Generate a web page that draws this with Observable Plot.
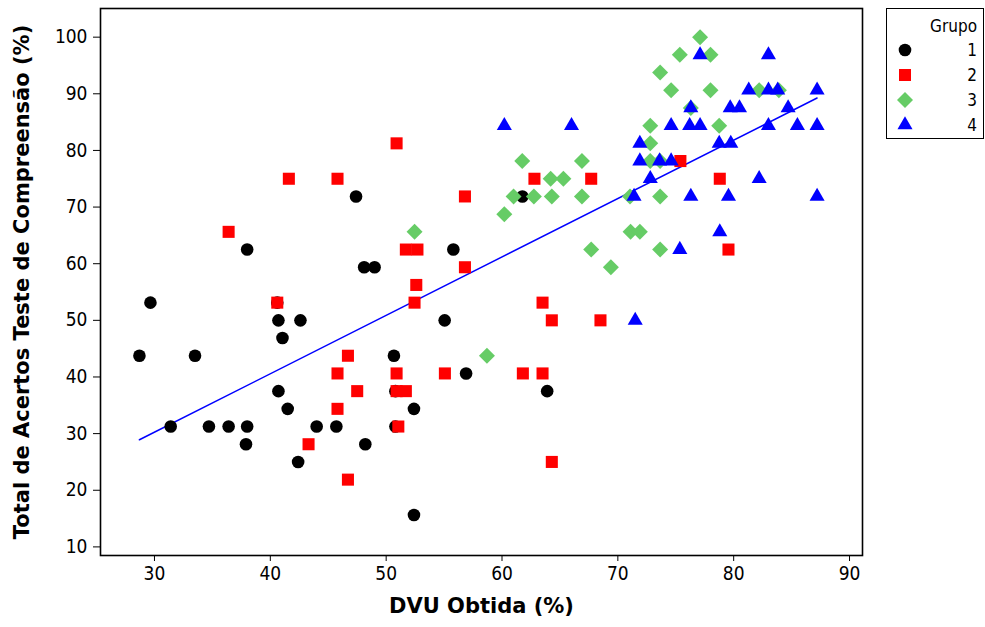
<!DOCTYPE html>
<html><head><meta charset="utf-8">
<script src="https://cdn.jsdelivr.net/npm/d3@7"></script>
<script src="https://cdn.jsdelivr.net/npm/@observablehq/plot@0.6"></script>
<style>
body{margin:0;background:#fff;font-family:"DejaVu Sans Condensed","DejaVu Sans",sans-serif;}
#wrap{position:relative;width:985px;height:627px;overflow:hidden;}
#legend{position:absolute;left:886px;top:8px;width:98px;height:131px;box-sizing:border-box;border:1px solid #000;background:#fff;}
</style></head><body><div id="wrap"></div>
<script>
// ---- data ----
const groups = ["1", "2", "3", "4"];
const groupColors = ["#000000", "#ff0000", "#66cc66", "#0000ff"];
const groupSymbols = ["circle", "square", "diamond2", "triangle"];
const groupRadii = [6.3, 6.8, 7.2, 5.6];

const g1x = [28.7, 29.65, 31.4, 33.5, 34.7, 36.4, 38.0, 37.9, 38.0, 40.6, 40.7, 41.05, 42.6, 40.7, 41.5, 42.4, 44.0, 45.7, 48.2, 47.4, 48.1, 49.0, 50.67, 50.8, 50.8, 52.4, 52.4, 55.8, 55.05, 56.9, 61.76, 63.9];
const g1y = [43.75, 53.125, 31.25, 43.75, 31.25, 31.25, 31.25, 28.125, 62.5, 53.125, 50, 46.875, 50, 37.5, 34.375, 25, 31.25, 31.25, 28.125, 71.875, 59.375, 59.375, 43.75, 37.5, 31.25, 34.375, 15.625, 62.5, 50, 40.625, 71.875, 37.5];

const g2x = [36.4, 40.6, 41.6, 43.3, 45.8, 50.9, 56.8, 51.7, 52.7, 56.8, 52.6, 52.45, 46.7, 45.8, 50.9, 55.07, 47.5, 50.9, 51.7, 45.8, 51.05, 46.7, 62.8, 67.7, 63.5, 64.3, 68.5, 61.8, 63.5, 64.3, 75.4, 78.8, 79.55];
const g2y = [65.625, 53.125, 75, 28.125, 75, 81.25, 71.875, 62.5, 62.5, 59.375, 56.25, 53.125, 43.75, 40.625, 40.625, 40.625, 37.5, 37.5, 37.5, 34.375, 31.25, 21.875, 75, 75, 53.125, 50, 50, 40.625, 40.625, 25, 78.125, 75, 62.5];

const g3x = [52.45, 58.7, 60.2, 61.75, 61.0, 62.75, 64.3, 66.9, 64.2, 65.3, 66.9, 67.7, 69.4, 71.1, 71.9, 73.65, 73.65, 71.05, 72.8, 72.8, 72.8, 73.65, 77.1, 75.35, 78.0, 73.65, 74.6, 78.0, 82.2, 83.9, 76.3, 78.75];
const g3y = [65.625, 43.75, 68.75, 78.125, 71.875, 71.875, 71.875, 71.875, 75, 75, 78.125, 62.5, 59.375, 65.625, 65.625, 62.5, 71.875, 71.875, 84.375, 81.25, 78.125, 78.125, 100, 96.875, 96.875, 93.75, 90.625, 90.625, 90.625, 90.625, 87.5, 84.375];

const g4x = [60.2, 66.0, 71.5, 71.4, 71.9, 71.9, 72.8, 73.6, 77.1, 83.0, 81.3, 83.0, 83.8, 87.2, 76.3, 79.7, 80.5, 84.7, 74.6, 76.2, 77.1, 83.0, 85.5, 87.2, 78.75, 79.75, 74.6, 82.2, 76.3, 79.55, 87.2, 78.8, 75.35];
const g4y = [84.375, 84.375, 50, 71.875, 81.25, 78.125, 75, 78.125, 96.875, 96.875, 90.625, 90.625, 90.625, 90.625, 87.5, 87.5, 87.5, 87.5, 84.375, 84.375, 84.375, 84.375, 84.375, 84.375, 81.25, 81.25, 78.125, 75, 71.875, 71.875, 71.875, 65.625, 62.5];

const xTicks = [30, 40, 50, 60, 70, 80, 90];
const yTicks = [10, 20, 30, 40, 50, 60, 70, 80, 90, 100];
const xLabel = "DVU Obtida (%)";
const yLabel = "Total de Acertos Teste de Compreensão (%)";
const legendTitle = "Grupo";

// ---- build table ----
const xs = [g1x, g2x, g3x, g4x];
const ys = [g1y, g2y, g3y, g4y];
const data = groups.flatMap((g, i) => xs[i].map((x, j) => ({grupo: g, x, y: ys[i][j]})));

const font = '"DejaVu Sans Condensed","DejaVu Sans",sans-serif';
const titleFont = '"DejaVu Sans",sans-serif';

const chart = Plot.plot({
  width: 985,
  height: 627,
  marginLeft: 100,
  marginRight: 123,
  marginTop: 8,
  marginBottom: 72,
  style: {fontFamily: font, background: "#fff", color: "#000"},
  x: {domain: [25.34, 91.12], ticks: xTicks},
  y: {domain: [8.48, 105.06], ticks: yTicks},
  color: {domain: groups, range: groupColors},
  symbol: {domain: groups, range: groupSymbols},
  marks: [
    Plot.axisX({ticks: xTicks, tickSize: 6, tickPadding: 5, fontSize: 19, label: null, tickFormat: d => String(d)}),
    Plot.axisY({ticks: yTicks, tickSize: 7, tickPadding: 6, fontSize: 19, label: null, tickFormat: d => String(d)}),
    Plot.linearRegressionY(data, {x: "x", y: "y", stroke: "#0000ff", strokeWidth: 1.5, ci: 0}),
    ...groups.map((g, i) => Plot.dot(data.filter(d => d.grupo === g), {x: "x", y: "y", fill: "grupo", symbol: "grupo", r: groupRadii[i]})),
    Plot.frame({stroke: "#000", strokeWidth: 1.6}),
    Plot.text([xLabel], {frameAnchor: "bottom", dy: 57, text: d => d, fontSize: 21, fontWeight: "bold", fontFamily: titleFont, fill: "#000", textAnchor: "middle"}),
    Plot.text([yLabel], {frameAnchor: "left", dx: -78, rotate: -90, text: d => d, fontSize: 21, fontWeight: "bold", fontFamily: titleFont, fill: "#000", textAnchor: "middle"})
  ]
});

const wrap = document.getElementById("wrap");
wrap.appendChild(chart);

// ---- legend ----
const symbolTypes = {circle: d3.symbolCircle, square: d3.symbolSquare, diamond2: d3.symbolDiamond2, triangle: d3.symbolTriangle};
const legendDiv = document.createElement("div");
legendDiv.id = "legend";
wrap.appendChild(legendDiv);
const lsvg = d3.select(legendDiv).append("svg").attr("width", 96).attr("height", 129)
  .style("font-family", font);
lsvg.append("text").attr("x", 90).attr("y", 17).attr("text-anchor", "end")
  .attr("dominant-baseline", "central").attr("font-size", 17).text(legendTitle);
groups.forEach((g, i) => {
  const cy = 41 + i * 25;
  lsvg.append("path")
    .attr("transform", `translate(18,${cy})`)
    .attr("d", d3.symbol(symbolTypes[groupSymbols[i]], Math.PI * groupRadii[i] * groupRadii[i])())
    .attr("fill", groupColors[i]);
  lsvg.append("text").attr("x", 90).attr("y", cy).attr("text-anchor", "end")
    .attr("dominant-baseline", "central").attr("font-size", 17).text(g);
});
</script></body></html>
